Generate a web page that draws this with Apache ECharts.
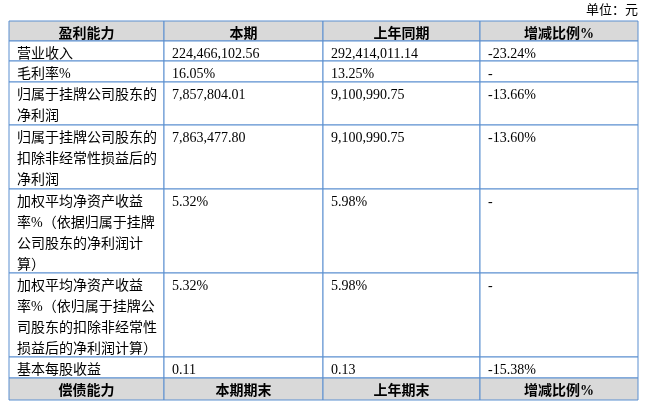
<!DOCTYPE html>
<html><head><meta charset="utf-8">
<script src="https://cdn.jsdelivr.net/npm/echarts@6/dist/echarts.min.js"></script>
<style>html,body{margin:0;padding:0;background:#fff}#c{width:646px;height:407px}</style>
</head><body><div id="c"></div>
<script>
const headers = ['盈利能力','本期','上年同期','增减比例%'];
const footerHeaders = ['偿债能力','本期期末','上年期末','增减比例%'];
const items = ['营业收入','毛利率%','归属于挂牌公司股东的\n净利润','归属于挂牌公司股东的\n扣除非经常性损益后的\n净利润','加权平均净资产收益\n率%（依据归属于挂牌\n公司股东的净利润计\n算）','加权平均净资产收益\n率%（依归属于挂牌公\n司股东的扣除非经常性\n损益后的净利润计算）','基本每股收益'];
const current = ['224,466,102.56','16.05%','7,857,804.01','7,863,477.80','5.32%','5.32%','0.11'];
const lastYear = ['292,414,011.14','13.25%','9,100,990.75','9,100,990.75','5.98%','5.98%','0.13'];
const change = ['-23.24%','-','-13.66%','-13.60%','-','-','-15.38%'];
const unit = '单位：元';

// layout (pixel grid)
const colX = [9,164,323,480,638];
const rowY = [21,41,61,82,125,189,273,357,378,400];
const cells = [];
const allRows = [headers].concat(items.map((t,i)=>[t,current[i],lastYear[i],change[i]])).concat([footerHeaders]);
allRows.forEach((r,ri)=>r.forEach((t,ci)=>cells.push([ci,ri,t])));
const chart = echarts.init(document.getElementById('c'));
chart.setOption({
  animation:false,
  grid:{left:0,right:0,top:0,bottom:0},
  xAxis:{type:'value',min:0,max:646,show:false},
  yAxis:{type:'value',min:0,max:407,inverse:true,show:false},
  graphic:[{type:'text',right:8,top:3,style:{text:unit,font:'13px "Noto Sans CJK SC"',fill:'#000'}}],
  series:[{type:'custom',coordinateSystem:'cartesian2d',data:cells,
    renderItem:function(params,api){
      const ci=api.value(0), ri=api.value(1), t=cells[params.dataIndex][2];
      const p0=api.coord([colX[ci],rowY[ri]]), p1=api.coord([colX[ci+1],rowY[ri+1]]);
      const isHead = ri===0 || ri===allRows.length-1;
      const children=[{type:'rect',shape:{x:p0[0],y:p0[1],width:p1[0]-p0[0],height:p1[1]-p0[1]},
        style:{fill:isHead?'#d9d9d9':'#fff',stroke:'#5b8fd0',lineWidth:1}}];
      children.push({type:'text',style:{
        text:t,x:isHead?(p0[0]+p1[0])/2:p0[0]+8,y:p0[1]+3,
        align:isHead?'center':'left',verticalAlign:'top',
        font:(isHead?'bold ':'')+'14px "Liberation Serif","Noto Sans CJK SC"',lineHeight:21,fill:'#000'}});
      return {type:'group',children};
    }}]
});
</script></body></html>
